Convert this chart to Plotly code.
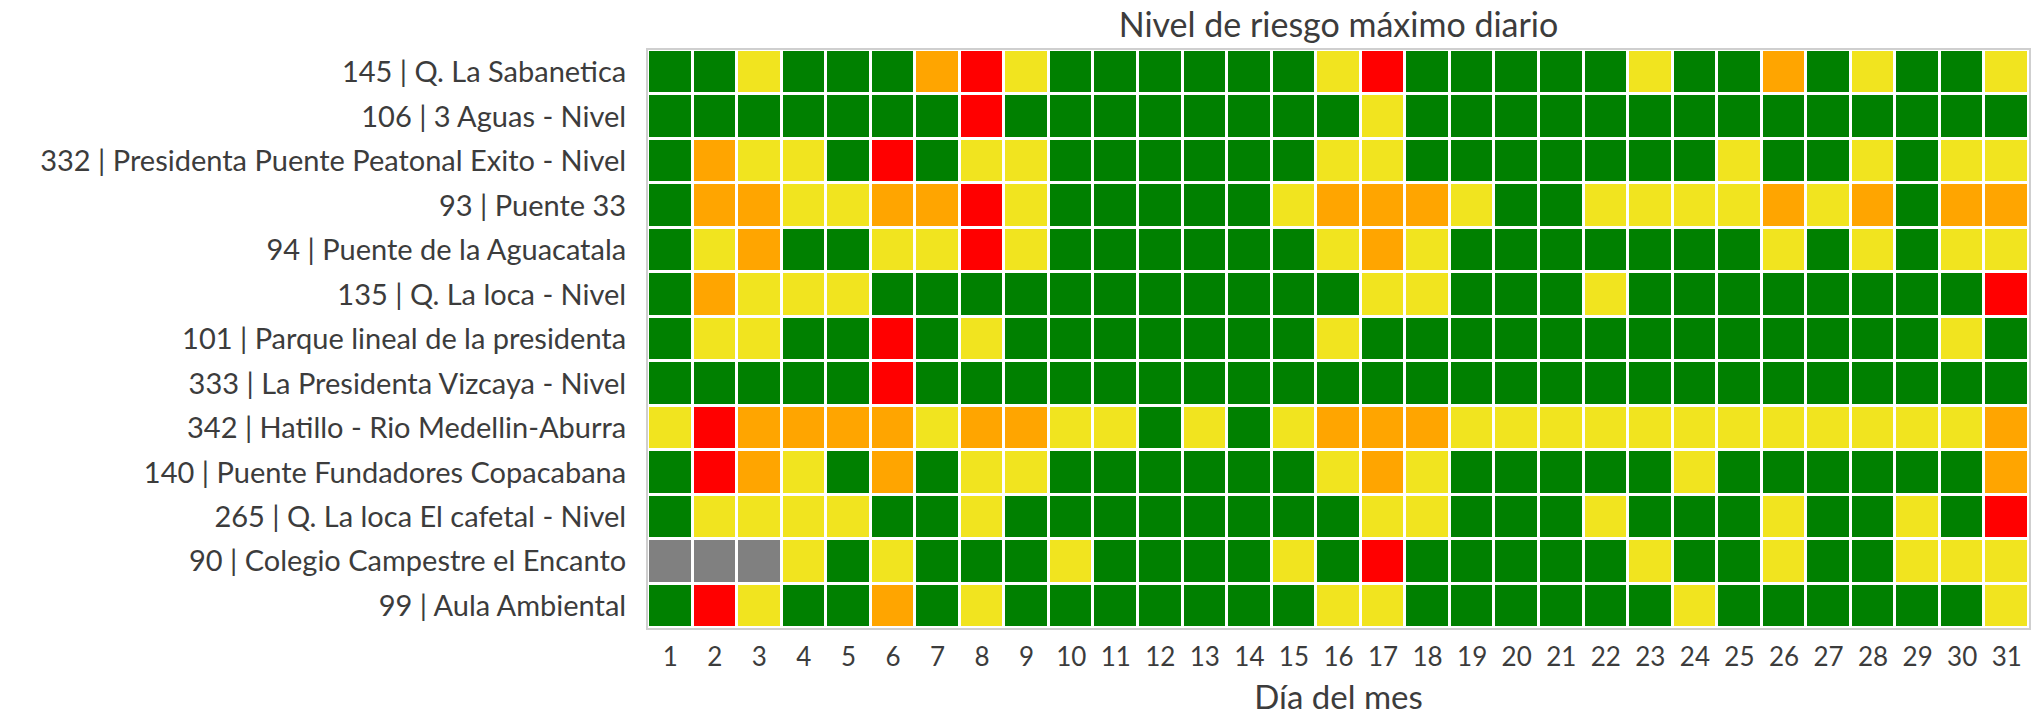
import plotly.graph_objects as go

days = list(range(1, 32))

stations = [
    "145 | Q. La Sabanetica",
    "106 | 3 Aguas - Nivel",
    "332 | Presidenta Puente Peatonal Exito - Nivel",
    "93 | Puente 33",
    "94 | Puente de la Aguacatala",
    "135 | Q. La loca - Nivel",
    "101 | Parque lineal de la presidenta",
    "333 | La Presidenta Vizcaya - Nivel",
    "342 | Hatillo - Rio Medellin-Aburra",
    "140 | Puente Fundadores Copacabana",
    "265 | Q. La loca El cafetal - Nivel",
    "90 | Colegio Campestre el Encanto",
    "99 | Aula Ambiental",
]

# Risk level per day: 0 = green, 1 = yellow, 2 = orange, 3 = red, None = no data
s145 = [0,0,1,0,0,0,2,3,1,0,0,0,0,0,0,1,3,0,0,0,0,0,1,0,0,2,0,1,0,0,1]
s106 = [0,0,0,0,0,0,0,3,0,0,0,0,0,0,0,0,1,0,0,0,0,0,0,0,0,0,0,0,0,0,0]
s332 = [0,2,1,1,0,3,0,1,1,0,0,0,0,0,0,1,1,0,0,0,0,0,0,0,1,0,0,1,0,1,1]
s93  = [0,2,2,1,1,2,2,3,1,0,0,0,0,0,1,2,2,2,1,0,0,1,1,1,1,2,1,2,0,2,2]
s94  = [0,1,2,0,0,1,1,3,1,0,0,0,0,0,0,1,2,1,0,0,0,0,0,0,0,1,0,1,0,1,1]
s135 = [0,2,1,1,1,0,0,0,0,0,0,0,0,0,0,0,1,1,0,0,0,1,0,0,0,0,0,0,0,0,3]
s101 = [0,1,1,0,0,3,0,1,0,0,0,0,0,0,0,1,0,0,0,0,0,0,0,0,0,0,0,0,0,1,0]
s333 = [0,0,0,0,0,3,0,0,0,0,0,0,0,0,0,0,0,0,0,0,0,0,0,0,0,0,0,0,0,0,0]
s342 = [1,3,2,2,2,2,1,2,2,1,1,0,1,0,1,2,2,2,1,1,1,1,1,1,1,1,1,1,1,1,2]
s140 = [0,3,2,1,0,2,0,1,1,0,0,0,0,0,0,1,2,1,0,0,0,0,0,1,0,0,0,0,0,0,2]
s265 = [0,1,1,1,1,0,0,1,0,0,0,0,0,0,0,0,1,1,0,0,0,1,0,0,0,1,0,0,1,0,3]
s90  = [None,None,None,1,0,1,0,0,0,1,0,0,0,0,1,0,3,0,0,0,0,0,1,0,0,1,0,0,1,1,1]
s99  = [0,3,1,0,0,2,0,1,0,0,0,0,0,0,0,1,1,0,0,0,0,0,0,1,0,0,0,0,0,0,1]

levels = [s145, s106, s332, s93, s94, s135, s101, s333, s342, s140, s265, s90, s99]

level_colors = ["#808080", "#008000", "#f1e41f", "#ffa500", "#ff0000"]  # no data, 0..3

z = [[-1 if v is None else v for v in row] for row in levels]

# discrete colorscale from -1..3
n = len(level_colors)
cs = []
for i, c in enumerate(level_colors):
    cs.append([i / n, c])
    cs.append([(i + 1) / n, c])

text_color = "#3c3c3c"
font_family = "Lato, 'Noto Sans', sans-serif"

fig = go.Figure(
    go.Heatmap(
        z=z,
        x=days,
        y=stations,
        colorscale=cs,
        zmin=-1.5,
        zmax=3.5,
        showscale=False,
        xgap=3,
        ygap=3,
    )
)

fig.update_layout(
    width=2032,
    height=716,
    margin=dict(l=648, r=3, t=50, b=88),
    paper_bgcolor="white",
    plot_bgcolor="white",
    font=dict(family=font_family, color=text_color, size=28),
    title=dict(
        text="Nivel de riesgo máximo diario",
        x=0.5,
        xref="paper",
        y=1 - 25 / 716,
        yref="container",
        yanchor="middle",
        xanchor="center",
        font=dict(size=34, color=text_color, family=font_family),
    ),
)

fig.update_xaxes(
    tickmode="array",
    tickvals=days,
    ticktext=[str(d) for d in days],
    tickfont=dict(size=26),
    ticklabelstandoff=5,
    title=dict(text="Día del mes", font=dict(size=33), standoff=18),
    showgrid=False,
    zeroline=False,
    showline=True,
    mirror=True,
    linecolor="#cfcfcf",
    linewidth=2,
    range=[0.5, 31.5],
    automargin=False,
)
fig.update_yaxes(
    autorange="reversed",
    tickfont=dict(size=29),
    ticklabelstandoff=14,
    showgrid=False,
    zeroline=False,
    showline=True,
    mirror=True,
    linecolor="#cfcfcf",
    linewidth=2,
    automargin=False,
)

fig.write_html(
    "out.html",
    config={"displayModeBar": False},
    post_script="document.body.style.margin='0';document.body.style.overflow='hidden';",
)
